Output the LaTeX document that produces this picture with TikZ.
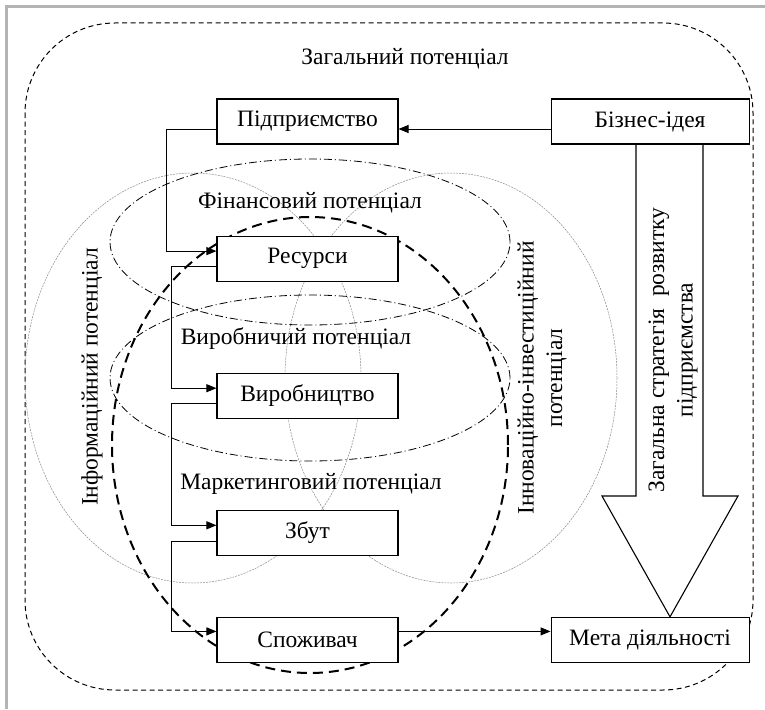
\documentclass[tikz,border=0pt]{standalone}
\usepackage{fontspec}
\setmainfont{Liberation Serif}
\usetikzlibrary{arrows.meta,positioning}
\definecolor{FrameGray}{HTML}{B4B4B4}
\definecolor{OvalGray}{HTML}{8A8A8A}

\begin{document}
\begin{tikzpicture}[x=1pt, y=-1pt,
	node distance=91pt and 152pt,
	box/.style={draw, line width=1.1pt, fill=white, minimum width=181pt, minimum height=45pt, inner sep=2pt, font=\fontsize{23.5}{28}\selectfont},
	widebox/.style={box, minimum width=198pt},
	lbl/.style={font=\fontsize{23.5}{28.5}\selectfont, align=center},
	arrow/.style={-{Triangle[length=10pt,width=8pt]}, line width=1pt},
	bigarrow/.style={line width=1.1pt, line join=miter},
	outerline/.style={line width=1pt, dash pattern=on 5pt off 3.5pt, rounded corners=90pt},
	dashdot/.style={line width=0.8pt, dash pattern=on 8pt off 3pt on 1pt off 3pt},
	thinoval/.style={OvalGray, line width=0.5pt, dash pattern=on 2pt off 1pt},
	thickdash/.style={line width=2pt, dash pattern=on 10pt off 6pt}
]
\useasboundingbox (0,0) rectangle (765,709);
\draw[FrameGray, line width=3pt] (6.5,709) -- (6.5,6.5) -- (765,6.5);

% potentials
\draw[outerline] (25,23) rectangle (753,690);
\draw[thinoval] (193,378) ellipse [x radius=168pt, y radius=205pt];
\draw[thinoval] (451,378) ellipse [x radius=166pt, y radius=205pt];
\draw[dashdot] (310,242) ellipse [x radius=200pt, y radius=83pt];
\draw[dashdot] (310,378) ellipse [x radius=200pt, y radius=83pt];
\draw[thickdash] (310,445) ellipse [x radius=198pt, y radius=228pt];

\node[lbl] (zag) at (405,59) {Загальний потенціал};
\node[lbl] (fin) at (310,203) {Фінансовий потенціал};
\node[lbl] (vyrp) at (296,339) {Виробничий потенціал};
\node[lbl] (mark) at (311,484) {Маркетинговий потенціал};
\node[lbl, rotate=90] (info) at (92,377) {Інформаційний потенціал};
\node[lbl, rotate=90] (innov) at (542,378) {Інноваційно-інвестиційний\\потенціал};

% chain
\node[box] (pidpr) at (307.5,121.5) {Підприємство};
\node[box, below=of pidpr] (resursy) {Ресурси};
\node[box, below=of resursy] (vyrob) {Виробництво};
\node[box, below=of vyrob] (zbut) {Збут};
\node[box, below=61pt of zbut] (spozh) {Споживач};
\node[widebox, right=of pidpr] (idea) {Бізнес-ідея};
\node[widebox, right=of spozh] (meta) {Мета діяльності};

% strategy arrow
\draw[bigarrow] (636,0 |- idea.south) -- (636,496) -- (602,496) -- (670,0 |- meta.north)
	-- (738,496) -- (703,496) -- (703,0 |- idea.south);
\node[lbl, rotate=90] (strat) at (673,350) {Загальна стратегія\ \ розвитку\\підприємства};

\draw[arrow] ([yshift=-7.5pt]idea.west) -- ([yshift=-7.5pt]pidpr.east);
\draw[arrow] ([yshift=-7.5pt]pidpr.west) -- ++(-50,0) |- ([yshift=7.5pt]resursy.west);
\draw[arrow] ([yshift=-7.5pt]resursy.west) -- ++(-45,0) |- ([yshift=7.5pt]vyrob.west);
\draw[arrow] ([yshift=-7.5pt]vyrob.west) -- ++(-45,0) |- ([yshift=7.5pt]zbut.west);
\draw[arrow] ([yshift=-8.5pt]zbut.west) -- ++(-45,0) |- ([yshift=8.5pt]spozh.west);
\draw[arrow] ([yshift=8.5pt]spozh.east) -- ([yshift=8.5pt]meta.west);
\end{tikzpicture}
\end{document}
